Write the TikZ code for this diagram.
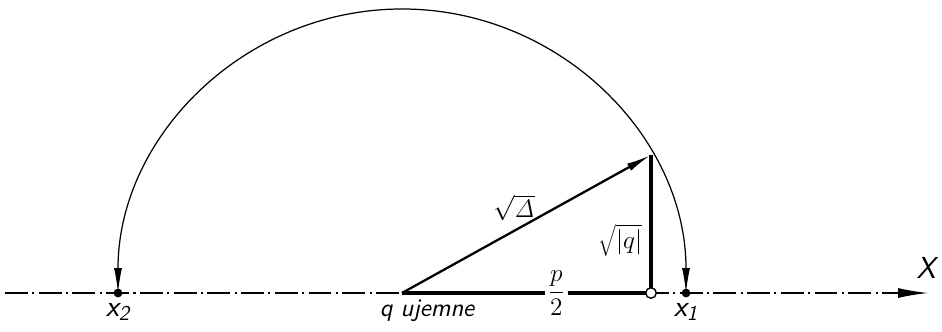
\documentclass[tikz,border=0pt]{standalone}
\usetikzlibrary{arrows.meta,positioning}
\begin{document}
\begin{tikzpicture}[x=0.02cm,y=0.02cm,
  >={Latex[length=0.5cm,width=0.16cm]},
  lbl/.style={font=\Large\sffamily\itshape,inner sep=1pt},
  pt/.style={circle,fill,inner sep=0pt,minimum size=5pt},
  axisline/.style={line width=0.8pt,dash pattern=on 13pt off 2.5pt on 1.2pt off 2.5pt},
  heavy/.style={line width=2.2pt}]
\useasboundingbox (0,0) rectangle (942,331);
\coordinate (L) at (5,38);
\coordinate (R) at (928,38);
\coordinate (q) at (402,38);
\coordinate (T) at (651,176);
\draw[axisline,-{Latex[length=0.6cm,width=0.2cm]}] (L) -- (R);
\node[pt] (x1) at (686,38) {};
\node[pt] (x2) at (118,38) {};
\draw[heavy] (q) -- node[pos=0.62,lbl,fill=white,inner sep=2pt] {$\displaystyle\frac{p}{2}$} (651,38);
\draw[heavy] (651,38) -- node[pos=0.38,lbl,left=3pt] {$\sqrt{|q|}$} (T);
\node[circle,draw,line width=0.8pt,fill=white,inner sep=0pt,minimum size=6pt] (O) at (651,38) {};
\draw[->,line width=1.3pt] (q) -- node[pos=0.45,lbl,above=4pt] {$\sqrt{\mathit{\Delta}}$} (T);
\draw[<->,line width=0.7pt] (x1) arc[start angle=0,end angle=180,radius=284];
% labels
\node[lbl,font=\LARGE\sffamily\itshape,below=2pt of x2] {x\textsubscript{2}};
\node[lbl,font=\LARGE\sffamily\itshape,below=2pt of x1] {x\textsubscript{1}};
\node[lbl,below=3pt of q,xshift=0.5cm] {q ujemne};
\node[lbl,font=\LARGE\sffamily\itshape] (X) at (926,63) {X};
\end{tikzpicture}
\end{document}
